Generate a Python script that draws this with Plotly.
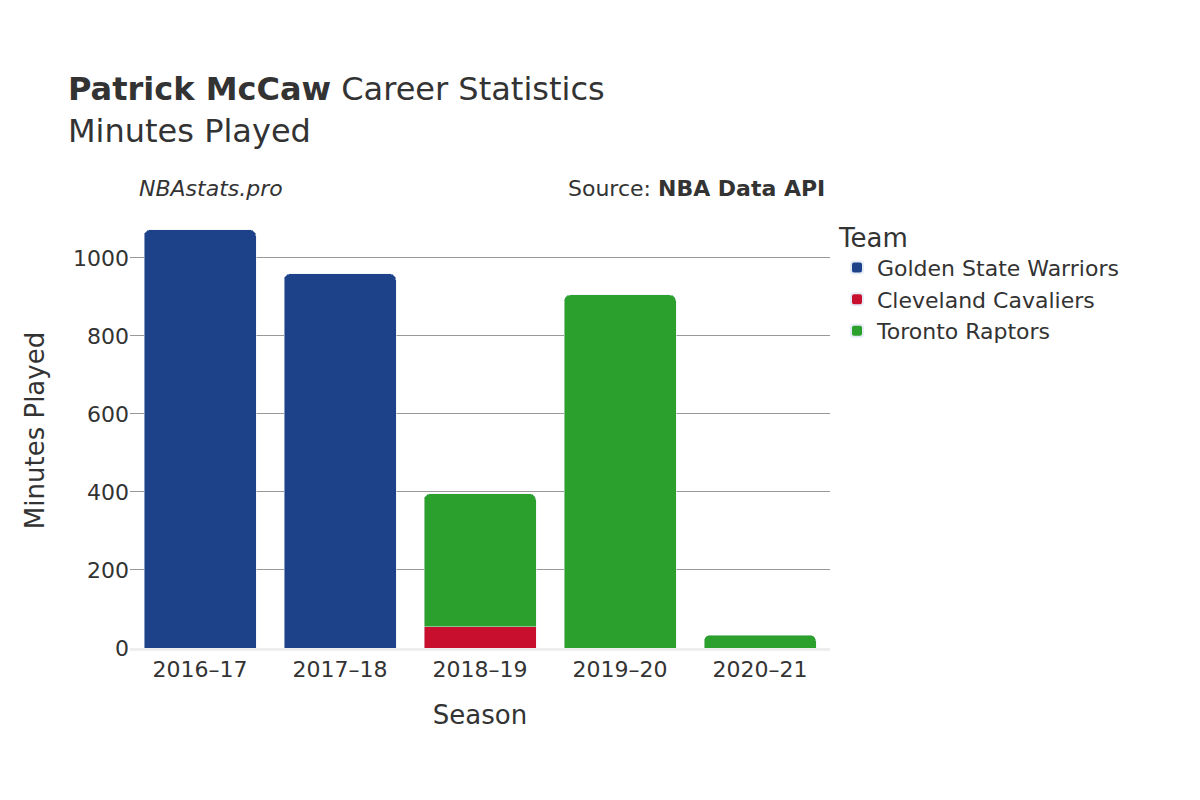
import plotly.graph_objects as go

seasons = ["2016–17", "2017–18", "2018–19", "2019–20", "2020–21"]
gsw = [1072, 959, None, None, None]
cle = [None, None, 54, None, None]
tor = [None, None, 341, 905, 33]

fig = go.Figure()
fig.add_bar(x=seasons, y=gsw, name="Golden State Warriors", marker_color="#1d428a")
fig.add_bar(x=seasons, y=cle, name="Cleveland Cavaliers", marker_color="#c8102e")
fig.add_bar(x=seasons, y=tor, name="Toronto Raptors", marker_color="#2ca02c")

fig.update_layout(
    barmode="stack",
    barcornerradius=6,
    bargap=0.2,
    width=1200, height=800,
    font=dict(family="DejaVu Sans", size=22, color="#333"),
    plot_bgcolor="white", paper_bgcolor="white",
    margin=dict(l=122, r=378, t=205, b=160),
    title=dict(
        text="<b>Patrick McCaw</b> Career Statistics<br>Minutes Played",
        x=0.05, xanchor="left", y=0.885, yanchor="top",
        font=dict(size=32, color="#333"),
    ),
    legend=dict(
        title=dict(text="Team", font=dict(size=26)),
        traceorder="normal",
        x=1.01, xanchor="left", y=1.0, yanchor="top",
        font=dict(size=22), itemsizing="constant",
    ),
    xaxis=dict(title=dict(text="Season", font=dict(size=26), standoff=25), showline=True,
               linecolor="#eee", linewidth=3),
    yaxis=dict(title=dict(text="Minutes Played", font=dict(size=26), standoff=20), gridcolor="#999",
               range=[0, 1115], dtick=200, zeroline=False),
    annotations=[
        dict(text="<i>NBAstats.pro</i>", xref="paper", yref="paper", x=0.01, y=1.09,
             xanchor="left", yanchor="top", showarrow=False, font=dict(size=22)),
        dict(text="Source: <b>NBA Data API</b>", xref="paper", yref="paper", x=0.995, y=1.09,
             xanchor="right", yanchor="top", showarrow=False, font=dict(size=22)),
    ],
)

fig.write_html("out.html")
